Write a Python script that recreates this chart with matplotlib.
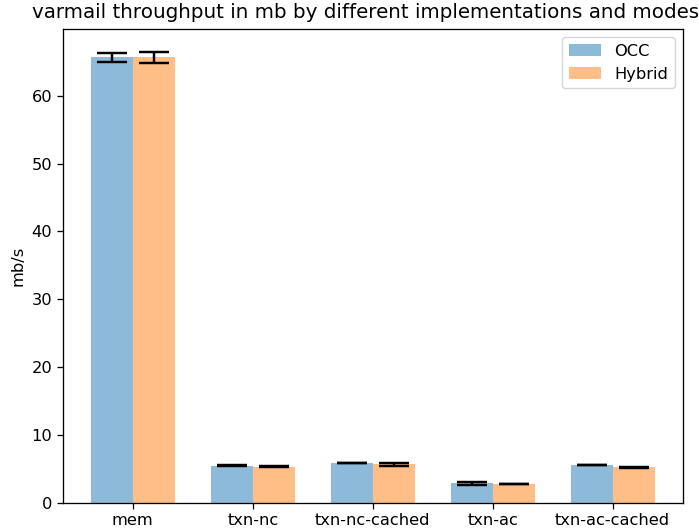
import matplotlib
matplotlib.use("Agg")
import matplotlib.pyplot as plt
import numpy as np

categories = ["mem", "txn-nc", "txn-nc-cached", "txn-ac", "txn-ac-cached"]
occ_means = [65.7, 5.46, 5.85, 2.85, 5.56]
occ_errs = [0.66, 0.06, 0.06, 0.2, 0.06]
hybrid_means = [65.66, 5.3, 5.7, 2.76, 5.2]
hybrid_errs = [0.86, 0.06, 0.22, 0.06, 0.06]

s = 1.17
plt.rcParams.update({
    "font.size": 10 * s,
    "axes.linewidth": 0.8 * s,
    "xtick.major.width": 0.8 * s,
    "ytick.major.width": 0.8 * s,
    "xtick.major.size": 3.5 * s,
    "ytick.major.size": 3.5 * s,
})

fig = plt.figure(figsize=(6.99, 5.31), dpi=100)
ax = fig.add_axes([0.0897, 0.0533, 0.887, 0.892])
x = np.arange(len(categories))
w = 0.35
ekw = dict(elinewidth=1.75, capthick=1.75)
ax.bar(x, occ_means, w, yerr=occ_errs, alpha=0.5, capsize=11, label="OCC", error_kw=ekw)
ax.bar(x + w, hybrid_means, w, yerr=hybrid_errs, alpha=0.5, capsize=11, label="Hybrid", error_kw=ekw)
ax.set_xticks(x + w / 2)
ax.set_xticklabels(categories)
ax.set_ylabel("mb/s")
ax.set_title("varmail throughput in mb by different implementations and modes",
             fontsize=14.3, x=0.488, pad=8)
ax.legend()
fig.savefig("out.png", dpi=100)
